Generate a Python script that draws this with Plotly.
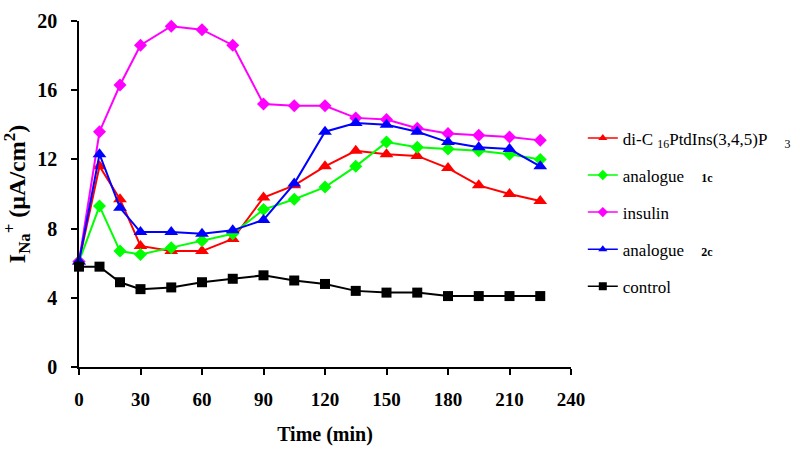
import plotly.graph_objects as go

time_min = [0, 10, 20, 30, 45, 60, 75, 90, 105, 120, 135, 150, 165, 180, 195, 210, 225]

pip3 = [6.1, 11.6, 9.7, 7.0, 6.7, 6.7, 7.4, 9.8, 10.5, 11.6, 12.5, 12.3, 12.2, 11.5, 10.5, 10.0, 9.6]
analogue_1c = [6.1, 9.3, 6.7, 6.5, 6.9, 7.3, 7.7, 9.1, 9.7, 10.4, 11.6, 13.0, 12.7, 12.6, 12.5, 12.3, 12.0]
insulin = [6.1, 13.6, 16.3, 18.6, 19.7, 19.5, 18.6, 15.2, 15.1, 15.1, 14.4, 14.3, 13.8, 13.5, 13.4, 13.3, 13.1]
analogue_2c = [6.1, 12.3, 9.2, 7.8, 7.8, 7.7, 7.9, 8.5, 10.6, 13.6, 14.1, 14.0, 13.6, 13.0, 12.7, 12.6, 11.6]
control = [5.8, 5.8, 4.9, 4.5, 4.6, 4.9, 5.1, 5.3, 5.0, 4.8, 4.4, 4.3, 4.3, 4.1, 4.1, 4.1, 4.1]

x_ticks = [0, 30, 60, 90, 120, 150, 180, 210, 240]
y_ticks = [0, 4, 8, 12, 16, 20]

SERIF = "Times New Roman, Liberation Serif, serif"
NB = "\u00a0"
SMALL_B = '<span style="font-size:12px"><b>{}</b></span>'
series = [
    ("di-C" + NB + "<sub>16</sub>PtdIns(3,4,5)P" + NB * 4 + "<sub>3</sub>", pip3, "#ff0000", "triangle-up", 12),
    ("analogue" + NB * 4 + SMALL_B.format("1c"), analogue_1c, "#00ff00", "diamond", 10),
    ("insulin", insulin, "#ff00ff", "diamond", 10),
    ("analogue" + NB * 4 + SMALL_B.format("2c"), analogue_2c, "#0000ff", "triangle-up", 12),
    ("control", control, "#000000", "square", 10),
]

fig = go.Figure()
for i, (name, vals, color, sym, size) in enumerate(series):
    fig.add_trace(go.Scatter(
        x=time_min, y=vals, name=name, mode="lines+markers",
        line=dict(color=color, width=2),
        marker=dict(symbol=sym, size=size, color=color),
        legendgroup=f"g{i}", showlegend=False, cliponaxis=False,
    ))
# legend entries (smaller symbols, as in the reference legend)
for i, (name, vals, color, sym, size) in enumerate(series):
    fig.add_trace(go.Scatter(
        x=[None], y=[None], name=name, mode="lines+markers",
        line=dict(color=color, width=1.5),
        marker=dict(symbol=sym, size=8, color=color),
        legendgroup=f"g{i}", showlegend=True,
    ))

fig.update_layout(
    width=800, height=456,
    margin=dict(l=79, r=229, t=21, b=89, autoexpand=False),
    plot_bgcolor="white", paper_bgcolor="white",
    showlegend=True,
    legend=dict(
        x=1.024, y=0.447, xanchor="left", yanchor="middle",
        font=dict(family=SERIF, size=17, color="black"),
        tracegroupgap=12, itemwidth=30,
        bgcolor="rgba(0,0,0,0)",
    ),
    xaxis=dict(
        range=[0, 240], tickvals=x_ticks, ticktext=[f"<b>{v}</b>" for v in x_ticks],
        showline=True, linecolor="black", linewidth=1.5,
        ticks="outside", ticklen=6, tickcolor="black", tickwidth=1.5,
        showgrid=False, zeroline=False, automargin=False, ticklabelstandoff=8,
        tickfont=dict(family=SERIF, size=19, color="black"),
        title=dict(text="<b>Time (min)</b>", font=dict(family=SERIF, size=20, color="black"), standoff=18),
    ),
    yaxis=dict(
        range=[0, 20], tickvals=y_ticks, ticktext=[f"<b>{v}</b>" for v in y_ticks],
        showline=True, linecolor="black", linewidth=1.5,
        ticks="outside", ticklen=6, tickcolor="black", tickwidth=1.5,
        showgrid=False, zeroline=False, automargin=False, ticklabelstandoff=10,
        tickfont=dict(family=SERIF, size=20, color="black"),
        title=dict(text="<b>I<sub>Na</sub><sup>+</sup> (µA/cm<sup>2</sup>)</b>", font=dict(family=SERIF, size=24, color="black"), standoff=6),
    ),
)

fig.write_html("out.html", config={"displayModeBar": False},
               post_script="document.body.style.margin='0';")
